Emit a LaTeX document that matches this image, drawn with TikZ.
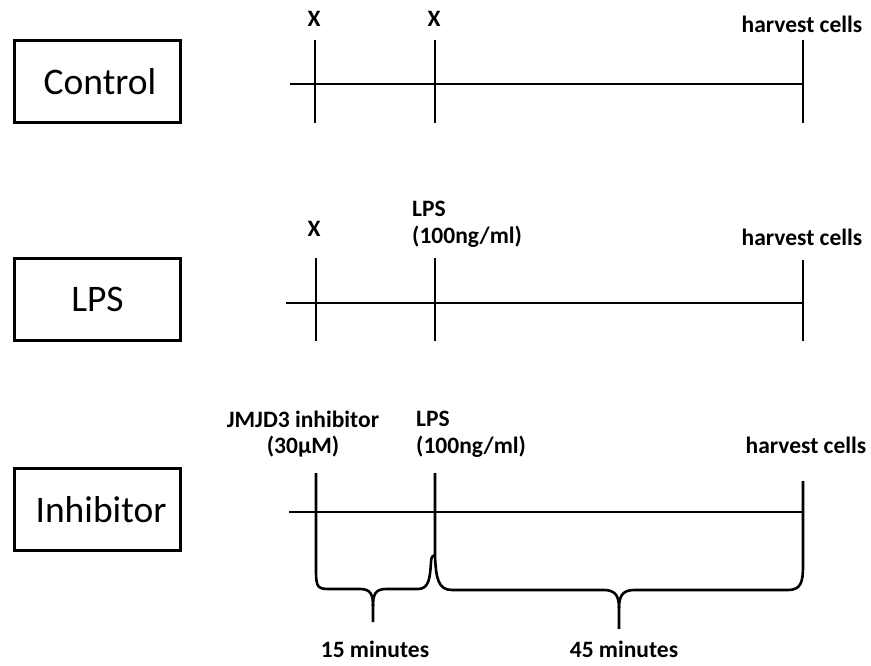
\documentclass[tikz,border=0pt]{standalone}
\usepackage{fontspec}
\setmainfont{Carlito}
\begin{document}
\begin{tikzpicture}[x=1pt,y=-1pt,
  box/.style={draw,line width=2.8pt,minimum width=166pt,minimum height=82pt,inner sep=0pt,font=\fontsize{37.5}{42}\selectfont},
  lbl/.style={font=\bfseries\fontsize{23.5}{28}\selectfont,inner sep=0pt},
  tl/.style={line width=2.6pt}]
\useasboundingbox (0,0) rectangle (871,666);
% boxes
\node[box] (bc) at (97.5,81.5) {\hspace*{5pt}Control};
\node[box] (bl) at (97.5,299.5) {LPS};
\node[box] (bi) at (97.5,509.5) {\hspace*{7pt}Inhibitor};
% control row
\draw[tl] (290,84) -- (803,84);
\draw[tl] (315,40) -- (315,123);
\draw[tl] (435,40) -- (435,123);
\draw[tl] (803,40) -- (803,123);
\node[lbl] (cx1) at (314,19) {X};
\node[lbl] (cx2) at (434,19) {X};
\node[lbl] (ch) at (802,24) {harvest cells};
% LPS row
\draw[tl] (286,303) -- (803,303);
\draw[tl] (316,258) -- (316,341);
\draw[tl] (435,258) -- (435,341);
\draw[tl] (803,260) -- (803,341);
\node[lbl] (lx) at (314,229) {X};
\node[lbl,anchor=west] (ll1) at (412,209) {LPS};
\node[lbl,anchor=west] (ll2) at (412,237) {(100ng/ml)};
\node[lbl] (lh) at (802,237) {harvest cells};
% inhibitor row
\draw[tl] (289,512) -- (803,512);
\node[lbl] (ij1) at (303,419) {JMJD3 inhibitor};
\node[lbl] (ij2) at (303,447) {(30µM)};
\node[lbl,anchor=west] (il1) at (416,419) {LPS};
\node[lbl,anchor=west] (il2) at (416,447) {(100ng/ml)};
\node[lbl] (ih) at (806,445) {harvest cells};
% left brace (with first tick)
\draw[tl,line join=round] (316,473) -- (316,570) .. controls (316,589) and (318,589) .. (332,589)
  -- (360,589) .. controls (371,589) and (373,595) .. (373,606) -- (373,622);
\draw[tl,line join=round] (373,606) .. controls (373,595) and (375,589) .. (386,589)
  -- (418,589) .. controls (429,589) and (430,578) .. (431,562) .. controls (431,557) and (433,555) .. (435,555);
% right brace (with LPS tick and harvest tick)
\draw[tl,line join=round] (435,473) -- (435,556) .. controls (436,578) and (438,590) .. (452,590)
  -- (604,590) .. controls (616,590) and (619,597) .. (619,608) -- (619,629);
\draw[tl,line join=round] (619,608) .. controls (619,597) and (622,590) .. (634,590)
  -- (788,590) .. controls (801,590) and (803,582) .. (803,566) -- (803,481);
\node[lbl] (m15) at (375,649) {15 minutes};
\node[lbl] (m45) at (624,649) {45 minutes};
\end{tikzpicture}
\end{document}
